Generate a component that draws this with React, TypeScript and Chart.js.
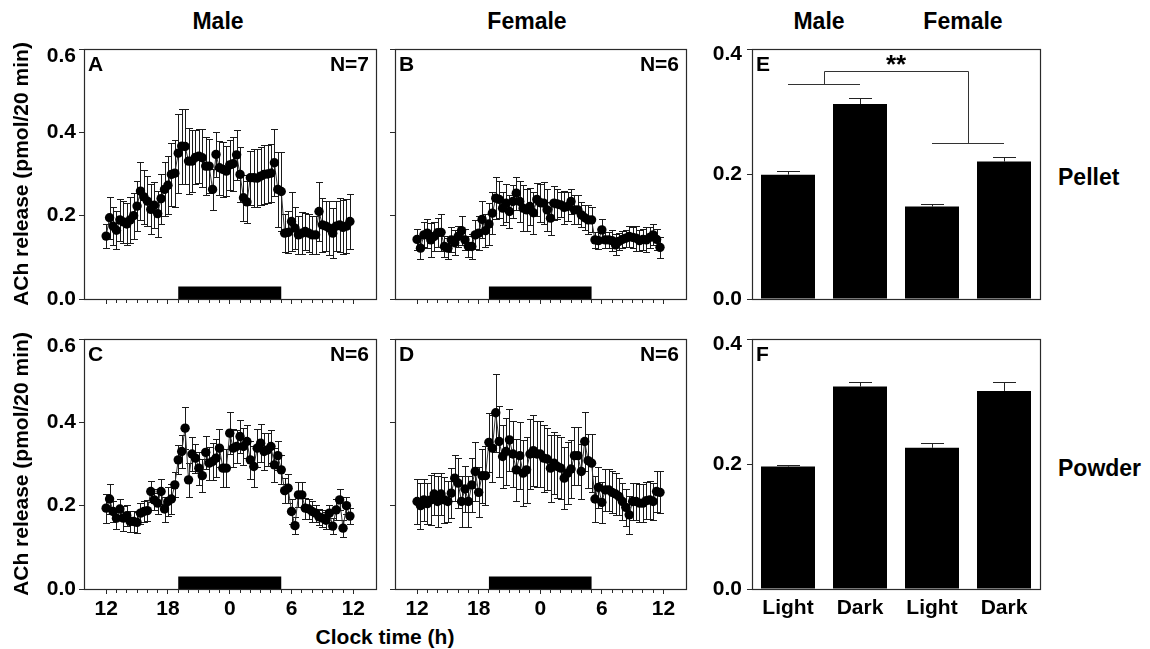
import React, { useEffect, useRef } from 'react';
import { Chart, registerables } from 'chart.js';

Chart.register(...registerables);

const FONT_FAMILY = '"Liberation Sans", Arial, Helvetica, sans-serif';
const INK = '#000000';
const LINE_INK = '#2a2a2a';

// ---------------- data ----------------
const SAMPLES_PER_HOUR = 3; // one sample every 20 min, starting 12:00
const HOUR_TICKS = Array.from({ length: 25 }, (_, h) => h); // hours after 12:00
const MAJOR_TICKS = [0, 6, 12, 18, 24];
const CLOCK_LABELS = ['12', '18', '0', '6', '12'];
const DARK_PHASE = [7, 17]; // 19:00 -> 05:00
const DARK_BAR_HEIGHT = 0.03;
const Y_TICKS_TIME = [0, 0.2, 0.4, 0.6];
const Y_TICKS_BAR = [0, 0.2, 0.4];
const Y_TITLE = 'ACh release (pmol/20 min)';
const X_TITLE = 'Clock time (h)';

const MALE_PELLET = [
  0.151, 0.195, 0.175, 0.165, 0.19, 0.185, 0.18, 0.19, 0.2, 0.223, 0.259, 0.245,
  0.235, 0.215, 0.225, 0.205, 0.241, 0.263, 0.273, 0.299, 0.302, 0.35, 0.367, 0.366,
  0.331, 0.331, 0.34, 0.343, 0.339, 0.319, 0.319, 0.263, 0.347, 0.315, 0.311, 0.307,
  0.322, 0.325, 0.346, 0.299, 0.243, 0.233, 0.291, 0.291, 0.29, 0.295, 0.299, 0.3,
  0.302, 0.327, 0.263, 0.258, 0.158, 0.16, 0.186, 0.17, 0.154, 0.158, 0.162, 0.158,
  0.154, 0.154, 0.21, 0.178, 0.175, 0.17, 0.158, 0.175, 0.178, 0.172, 0.175, 0.186,
];
const MALE_PELLET_SEM = [
  0.028, 0.05, 0.045, 0.045, 0.05, 0.05, 0.05, 0.055, 0.055, 0.06, 0.07, 0.065,
  0.06, 0.06, 0.055, 0.055, 0.06, 0.065, 0.07, 0.075, 0.08, 0.095, 0.09, 0.09,
  0.08, 0.075, 0.065, 0.065, 0.07, 0.07, 0.065, 0.05, 0.055, 0.065, 0.065, 0.06,
  0.06, 0.065, 0.06, 0.065, 0.055, 0.05, 0.065, 0.07, 0.07, 0.07, 0.07, 0.07,
  0.07, 0.08, 0.09, 0.095, 0.045, 0.05, 0.07, 0.05, 0.045, 0.05, 0.045, 0.045,
  0.045, 0.045, 0.07, 0.065, 0.06, 0.065, 0.06, 0.06, 0.065, 0.065, 0.065, 0.065,
];

const FEMALE_PELLET = [
  0.143, 0.122, 0.154, 0.158, 0.142, 0.15, 0.159, 0.16, 0.126, 0.122, 0.142, 0.135,
  0.15, 0.164, 0.142, 0.126, 0.126, 0.154, 0.158, 0.191, 0.164, 0.18, 0.206, 0.242,
  0.239, 0.218, 0.23, 0.21, 0.234, 0.254, 0.234, 0.218, 0.214, 0.222, 0.207, 0.239,
  0.231, 0.23, 0.214, 0.194, 0.23, 0.228, 0.226, 0.22, 0.222, 0.234, 0.214, 0.214,
  0.202, 0.195, 0.19, 0.19, 0.142, 0.14, 0.166, 0.142, 0.142, 0.14, 0.13, 0.138,
  0.143, 0.146, 0.15, 0.148, 0.146, 0.14, 0.143, 0.142, 0.148, 0.154, 0.143, 0.124,
];
const FEMALE_PELLET_SEM = [
  0.025, 0.025, 0.03, 0.035, 0.04, 0.035, 0.035, 0.045, 0.025, 0.025, 0.03, 0.03,
  0.025, 0.035, 0.025, 0.025, 0.03, 0.035, 0.04, 0.045, 0.04, 0.05, 0.05, 0.05,
  0.045, 0.04, 0.045, 0.04, 0.04, 0.04, 0.05, 0.055, 0.05, 0.045, 0.05, 0.04,
  0.045, 0.05, 0.05, 0.04, 0.04, 0.035, 0.03, 0.04, 0.035, 0.03, 0.035, 0.035,
  0.03, 0.03, 0.035, 0.03, 0.02, 0.02, 0.025, 0.02, 0.02, 0.025, 0.025, 0.02,
  0.02, 0.02, 0.025, 0.025, 0.03, 0.025, 0.025, 0.03, 0.025, 0.025, 0.025, 0.025,
];

const MALE_POWDER = [
  0.194, 0.216, 0.186, 0.17, 0.192, 0.17, 0.176, 0.162, 0.162, 0.16, 0.182, 0.186,
  0.188, 0.234, 0.214, 0.206, 0.234, 0.192, 0.21, 0.216, 0.25, 0.31, 0.33, 0.386,
  0.262, 0.324, 0.314, 0.29, 0.272, 0.328, 0.302, 0.306, 0.314, 0.338, 0.29, 0.29,
  0.374, 0.338, 0.342, 0.366, 0.342, 0.354, 0.31, 0.294, 0.338, 0.35, 0.33, 0.334,
  0.342, 0.298, 0.32, 0.286, 0.236, 0.242, 0.186, 0.152, 0.226, 0.226, 0.194, 0.192,
  0.186, 0.182, 0.173, 0.17, 0.165, 0.182, 0.151, 0.19, 0.214, 0.146, 0.2, 0.175,
];
const MALE_POWDER_SEM = [
  0.035, 0.035, 0.025, 0.025, 0.025, 0.03, 0.025, 0.025, 0.025, 0.025, 0.025, 0.025,
  0.025, 0.025, 0.025, 0.025, 0.03, 0.03, 0.035, 0.035, 0.03, 0.035, 0.04, 0.05,
  0.04, 0.04, 0.035, 0.04, 0.04, 0.04, 0.04, 0.045, 0.045, 0.045, 0.045, 0.045,
  0.05, 0.045, 0.04, 0.04, 0.045, 0.04, 0.045, 0.05, 0.045, 0.045, 0.045, 0.04,
  0.04, 0.04, 0.035, 0.035, 0.03, 0.035, 0.03, 0.02, 0.03, 0.03, 0.025, 0.025,
  0.025, 0.02, 0.02, 0.02, 0.02, 0.02, 0.02, 0.025, 0.025, 0.02, 0.02, 0.02,
];

const FEMALE_POWDER = [
  0.21, 0.2, 0.214, 0.205, 0.214, 0.228, 0.21, 0.228, 0.214, 0.21, 0.23, 0.266,
  0.254, 0.21, 0.24, 0.21, 0.25, 0.282, 0.232, 0.272, 0.272, 0.352, 0.338, 0.423,
  0.354, 0.318, 0.33, 0.358, 0.324, 0.286, 0.32, 0.278, 0.286, 0.324, 0.332, 0.324,
  0.324, 0.314, 0.312, 0.29, 0.302, 0.294, 0.29, 0.266, 0.278, 0.288, 0.32, 0.32,
  0.282, 0.354, 0.308, 0.302, 0.216, 0.244, 0.208, 0.238, 0.238, 0.232, 0.228, 0.222,
  0.21, 0.196, 0.178, 0.21, 0.21, 0.206, 0.206, 0.212, 0.214, 0.21, 0.234, 0.232,
];
const FEMALE_POWDER_SEM = [
  0.055, 0.055, 0.05, 0.05, 0.06, 0.05, 0.06, 0.05, 0.055, 0.05, 0.06, 0.055,
  0.06, 0.06, 0.055, 0.06, 0.065, 0.07, 0.06, 0.065, 0.07, 0.07, 0.08, 0.093,
  0.085, 0.075, 0.08, 0.075, 0.08, 0.075, 0.08, 0.08, 0.08, 0.085, 0.085, 0.08,
  0.08, 0.08, 0.075, 0.08, 0.075, 0.075, 0.075, 0.075, 0.075, 0.07, 0.07, 0.07,
  0.065, 0.07, 0.065, 0.07, 0.055, 0.05, 0.05, 0.05, 0.05, 0.05, 0.05, 0.045,
  0.045, 0.045, 0.045, 0.045, 0.045, 0.045, 0.045, 0.045, 0.045, 0.045, 0.05, 0.05,
];

const BAR_LABELS = ['Light', 'Dark', 'Light', 'Dark'];
const PELLET_MEANS = [0.199, 0.312, 0.148, 0.22];
const PELLET_SEM = [0.006, 0.01, 0.004, 0.008];
const POWDER_MEANS = [0.196, 0.324, 0.226, 0.317];
const POWDER_SEM = [0.003, 0.007, 0.008, 0.014];

// significance bracket (male vs female, pellet)
const BRACKET_MALE_LEVEL = 0.344;
const BRACKET_FEMALE_LEVEL = 0.25;
const BRACKET_TOP_LEVEL = 0.365;
const BRACKET_STAR_LEVEL = 0.38;
const BRACKET_TEXT = '**';

const X_MIN = -2.15;
const X_MAX = 26.2;

// ---------------- plugins ----------------
const errorBarPlugin = {
  id: 'errorBars',
  beforeDatasetsDraw(chart: any, _args: any, opts: any) {
    const { ctx } = chart;
    const yScale = chart.scales.y;
    chart.data.datasets.forEach((ds: any, di: number) => {
      const errs: number[] | undefined = ds.errors;
      if (!errs) return;
      const meta = chart.getDatasetMeta(di);
      ctx.save();
      ctx.strokeStyle = opts.color;
      ctx.lineWidth = opts.width;
      meta.data.forEach((el: any, i: number) => {
        const raw = ds.data[i];
        const val = typeof raw === 'number' ? raw : raw.y;
        const x = Math.round(el.x) + 0.5;
        const yTop = Math.round(yScale.getPixelForValue(val + errs[i])) + 0.5;
        const yBot = opts.upperOnly
          ? yScale.getPixelForValue(val)
          : Math.round(yScale.getPixelForValue(val - errs[i])) + 0.5;
        ctx.beginPath();
        ctx.moveTo(x, yTop);
        ctx.lineTo(x, yBot);
        ctx.moveTo(x - opts.cap, yTop);
        ctx.lineTo(x + opts.cap, yTop);
        if (!opts.upperOnly) {
          ctx.moveTo(x - opts.cap, yBot);
          ctx.lineTo(x + opts.cap, yBot);
        }
        ctx.stroke();
      });
      ctx.restore();
    });
  },
};

const decorPlugin = {
  id: 'decor',
  beforeDatasetsDraw(chart: any, _args: any, o: any) {
    if (!o.dark) return;
    const { ctx } = chart;
    const x = chart.scales.x;
    const y = chart.scales.y;
    const x0 = x.getPixelForValue(o.dark[0]);
    const x1 = x.getPixelForValue(o.dark[1]);
    const y0 = y.getPixelForValue(0);
    const y1 = y.getPixelForValue(o.darkHeight);
    ctx.save();
    ctx.fillStyle = INK;
    ctx.fillRect(x0, y1, x1 - x0, y0 - y1);
    ctx.restore();
  },
  afterDraw(chart: any, _args: any, o: any) {
    const { ctx, chartArea: a } = chart;
    ctx.save();
    // frame
    ctx.strokeStyle = LINE_INK;
    ctx.lineWidth = 1.2;
    ctx.strokeRect(Math.round(a.left) + 0.5, Math.round(a.top) + 0.5, Math.round(a.right - a.left), Math.round(a.bottom - a.top));
    // panel letter & N
    ctx.fillStyle = INK;
    ctx.font = `bold 21px ${FONT_FAMILY}`;
    ctx.textBaseline = 'middle';
    if (o.letter) {
      ctx.textAlign = 'left';
      ctx.fillText(o.letter, a.left + 4, a.top + 16);
    }
    if (o.n) {
      ctx.textAlign = 'right';
      ctx.fillText(o.n, a.right - 7, a.top + 16);
    }
    // significance bracket
    if (o.bracket) {
      const x = chart.scales.x;
      const y = chart.scales.y;
      const c = [0, 1, 2, 3].map((i) => x.getPixelForValue(i));
      const mMid = (c[0] + c[1]) / 2;
      const fMid = (c[2] + c[3]) / 2;
      const yM = Math.round(y.getPixelForValue(BRACKET_MALE_LEVEL)) + 0.5;
      const yF = Math.round(y.getPixelForValue(BRACKET_FEMALE_LEVEL)) + 0.5;
      const yT = Math.round(y.getPixelForValue(BRACKET_TOP_LEVEL)) + 0.5;
      ctx.strokeStyle = '#333333';
      ctx.lineWidth = 1;
      ctx.beginPath();
      ctx.moveTo(c[0], yM);
      ctx.lineTo(c[1], yM);
      ctx.moveTo(Math.round(mMid) + 0.5, yM);
      ctx.lineTo(Math.round(mMid) + 0.5, yT);
      ctx.lineTo(Math.round(fMid) + 0.5, yT);
      ctx.lineTo(Math.round(fMid) + 0.5, yF);
      ctx.moveTo(c[2], yF);
      ctx.lineTo(c[3], yF);
      ctx.stroke();
      ctx.font = `bold 26px ${FONT_FAMILY}`;
      ctx.textAlign = 'center';
      ctx.fillText(BRACKET_TEXT, (mMid + fMid) / 2, y.getPixelForValue(BRACKET_STAR_LEVEL) + 4);
    }
    ctx.restore();
  },
};

const tickFont = (lineHeight?: number) => ({
  family: FONT_FAMILY,
  size: 21,
  weight: 'bold' as const,
  ...(lineHeight ? { lineHeight } : {}),
});

// ---------------- configs ----------------
type LineP = {
  values: number[]; errors: number[]; letter: string; n: string;
  xLabels: boolean; yLabels: boolean; yWidth: number; padTop: number; padRight: number; xHeight: number;
};

function makeLineConfig(p: LineP): any {
  const points = p.values.map((v, i) => ({ x: i / SAMPLES_PER_HOUR, y: v }));
  return {
    type: 'line',
    data: {
      datasets: [{
        data: points,
        errors: p.errors,
        borderColor: '#333333',
        borderWidth: 1,
        pointRadius: 4.7,
        pointHoverRadius: 4.7,
        pointBackgroundColor: INK,
        pointBorderColor: INK,
        pointBorderWidth: 0,
        tension: 0,
        fill: false,
      }],
    },
    options: {
      responsive: false,
      animation: false,
      events: [],
      layout: { padding: { left: 0, top: p.padTop, right: p.padRight, bottom: 0 } },
      plugins: {
        legend: { display: false },
        tooltip: { enabled: false },
        errorBars: { color: '#1a1a1a', width: 1, cap: 3.5, upperOnly: false },
        decor: { letter: p.letter, n: p.n, dark: DARK_PHASE, darkHeight: DARK_BAR_HEIGHT },
      },
      scales: {
        x: {
          type: 'linear',
          min: X_MIN,
          max: X_MAX,
          afterBuildTicks: (s: any) => { s.ticks = HOUR_TICKS.map((v) => ({ value: v })); },
          afterFit: (s: any) => { s.height = p.xHeight; },
          border: { display: false },
          grid: {
            drawOnChartArea: false,
            drawTicks: true,
            tickLength: 5,
            tickWidth: 1,
            tickColor: LINE_INK,
            tickBorderDash: (c: any) => (c.tick && MAJOR_TICKS.includes(c.tick.value) ? [] : [4, 20]),
          },
          ticks: {
            display: p.xLabels,
            autoSkip: false,
            maxRotation: 0,
            minRotation: 0,
            padding: 3,
            color: INK,
            font: tickFont(),
            callback: (v: any) => {
              const k = MAJOR_TICKS.indexOf(Number(v));
              return k >= 0 ? CLOCK_LABELS[k] : '';
            },
          },
        },
        y: {
          min: 0,
          max: 0.6,
          afterBuildTicks: (s: any) => { s.ticks = Y_TICKS_TIME.map((v) => ({ value: v })); },
          afterFit: (s: any) => { s.width = p.yWidth; },
          border: { display: false },
          grid: { drawOnChartArea: false, tickLength: 5, tickWidth: 1, tickColor: LINE_INK },
          ticks: {
            display: p.yLabels,
            padding: 3,
            color: INK,
            font: tickFont(0.65),
            callback: (v: any) => (Number(v) === 0.6 ? ['', '0.6'] : Number(v).toFixed(1)),
          },
          title: {
            display: p.yLabels,
            text: Y_TITLE,
            color: INK,
            font: { family: FONT_FAMILY, size: 21, weight: 'bold' },
            padding: { top: 9.5, bottom: 0 },
          },
        },
      },
    },
    plugins: [errorBarPlugin, decorPlugin],
  };
}

type BarP = {
  values: number[]; errors: number[]; letter: string; bracket: boolean;
  xLabels: boolean; padTop: number; xHeight: number;
};

function makeBarConfig(p: BarP): any {
  return {
    type: 'bar',
    data: {
      labels: BAR_LABELS,
      datasets: [{
        data: p.values,
        errors: p.errors,
        backgroundColor: INK,
        borderWidth: 0,
        barPercentage: 0.75,
        categoryPercentage: 1,
      }],
    },
    options: {
      responsive: false,
      animation: false,
      events: [],
      layout: { padding: { left: 0, top: p.padTop, right: 10, bottom: 0 } },
      plugins: {
        legend: { display: false },
        tooltip: { enabled: false },
        errorBars: { color: '#222222', width: 1, cap: 11.5, upperOnly: true },
        decor: { letter: p.letter, bracket: p.bracket },
      },
      scales: {
        x: {
          afterFit: (s: any) => { s.height = p.xHeight; },
          border: { display: false },
          grid: { display: false, drawTicks: false },
          ticks: { display: p.xLabels, padding: 6.5, color: INK, font: tickFont() },
        },
        y: {
          min: 0,
          max: 0.4,
          afterBuildTicks: (s: any) => { s.ticks = Y_TICKS_BAR.map((v) => ({ value: v })); },
          afterFit: (s: any) => { s.width = 52; },
          border: { display: false },
          grid: { drawOnChartArea: false, tickLength: 5, tickWidth: 1, tickColor: LINE_INK },
          ticks: {
            padding: 5,
            color: INK,
            font: tickFont(0.45),
            callback: (v: any) => (Number(v) === 0.4 ? ['', '0.4'] : Number(v).toFixed(1)),
          },
        },
      },
    },
    plugins: [errorBarPlugin, decorPlugin],
  };
}

// ---------------- components ----------------
function ChartCanvas(props: { make: () => any; left: number; top: number; width: number; height: number }) {
  const ref = useRef<HTMLCanvasElement>(null);
  useEffect(() => {
    const chart = new Chart(ref.current as HTMLCanvasElement, props.make());
    return () => chart.destroy();
  }, []);
  return (
    <canvas
      ref={ref}
      width={props.width}
      height={props.height}
      style={{ position: 'absolute', left: props.left, top: props.top, width: props.width, height: props.height }}
    />
  );
}

function Label(props: { text: string; x: number; y: number; size: number; center?: boolean }) {
  const { text, x, y, size, center } = props;
  return (
    <div
      style={{
        position: 'absolute',
        left: x,
        top: y - 0.482 * size,
        fontFamily: FONT_FAMILY,
        fontWeight: 'bold',
        fontSize: size,
        lineHeight: `${size}px`,
        whiteSpace: 'nowrap',
        color: INK,
        transform: center ? 'translateX(-50%)' : undefined,
      }}
    >
      {text}
    </div>
  );
}

export default function App() {
  return (
    <div style={{ position: 'absolute', left: 0, top: 0, width: 1150, height: 649, background: '#ffffff', overflow: 'hidden' }}>
      <Label text="Male" x={218} y={21} size={23} center />
      <Label text="Female" x={527} y={21} size={23} center />
      <Label text="Male" x={819} y={21} size={23} center />
      <Label text="Female" x={963} y={21} size={23} center />
      <Label text="Pellet" x={1058} y={177} size={23} />
      <Label text="Powder" x={1058} y={468} size={23} />
      <Label text={X_TITLE} x={385} y={636} size={21} center />

      <ChartCanvas left={0} top={30} width={384} height={292} make={() => makeLineConfig({
        values: MALE_PELLET, errors: MALE_PELLET_SEM, letter: 'A', n: 'N=7',
        xLabels: false, yLabels: true, yWidth: 84, padTop: 19, padRight: 8, xHeight: 23,
      })} />
      <ChartCanvas left={384} top={30} width={316} height={292} make={() => makeLineConfig({
        values: FEMALE_PELLET, errors: FEMALE_PELLET_SEM, letter: 'B', n: 'N=6',
        xLabels: false, yLabels: false, yWidth: 11, padTop: 19, padRight: 14, xHeight: 23,
      })} />
      <ChartCanvas left={0} top={322} width={384} height={318} make={() => makeLineConfig({
        values: MALE_POWDER, errors: MALE_POWDER_SEM, letter: 'C', n: 'N=6',
        xLabels: true, yLabels: true, yWidth: 84, padTop: 17, padRight: 8, xHeight: 51,
      })} />
      <ChartCanvas left={384} top={322} width={316} height={318} make={() => makeLineConfig({
        values: FEMALE_POWDER, errors: FEMALE_POWDER_SEM, letter: 'D', n: 'N=6',
        xLabels: true, yLabels: false, yWidth: 11, padTop: 17, padRight: 14, xHeight: 51,
      })} />
      <ChartCanvas left={700} top={30} width={350} height={292} make={() => makeBarConfig({
        values: PELLET_MEANS, errors: PELLET_SEM, letter: 'E', bracket: true,
        xLabels: false, padTop: 19, xHeight: 23,
      })} />
      <ChartCanvas left={700} top={322} width={350} height={318} make={() => makeBarConfig({
        values: POWDER_MEANS, errors: POWDER_SEM, letter: 'F', bracket: false,
        xLabels: true, padTop: 17, xHeight: 51,
      })} />
    </div>
  );
}
